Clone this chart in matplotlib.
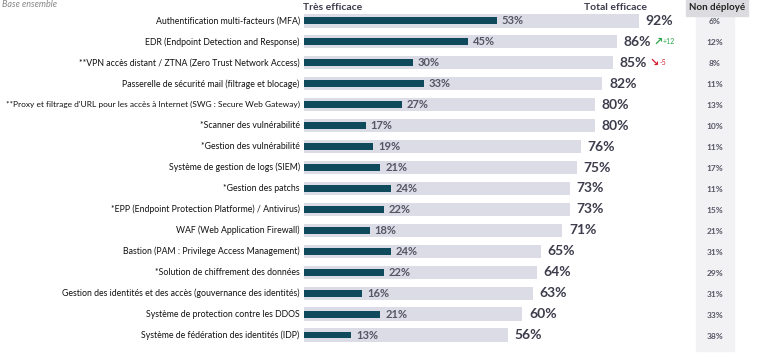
import numpy as np
import matplotlib.pyplot as plt

plt.rcParams['font.family'] = ['Lato', 'DejaVu Sans']

categories = [
    "Authentification multi-facteurs (MFA)",
    "EDR (Endpoint Detection and Response)",
    "**VPN accès distant / ZTNA (Zero Trust Network Access)",
    "Passerelle de sécurité mail (filtrage et blocage)",
    "**Proxy et filtrage d'URL pour les accès à Internet (SWG : Secure Web Gateway)",
    "*Scanner des vulnérabilité",
    "*Gestion des vulnérabilité",
    "Système de gestion de logs (SIEM)",
    "*Gestion des patchs",
    "*EPP (Endpoint Protection Platforme) / Antivirus)",
    "WAF (Web Application Firewall)",
    "Bastion (PAM : Privilege Access Management)",
    "*Solution de chiffrement des données",
    "Gestion des identités et des accès (gouvernance des identités)",
    "Système de protection contre les DDOS",
    "Système de fédération des identités (IDP)",
]
tres_efficace = [53, 45, 30, 33, 27, 17, 19, 21, 24, 22, 18, 24, 22, 16, 21, 13]
total_efficace = [92, 86, 85, 82, 80, 80, 76, 75, 73, 73, 71, 65, 64, 63, 60, 56]
non_deploye = [6, 12, 8, 11, 13, 10, 11, 17, 11, 15, 21, 31, 29, 31, 33, 38]
evolutions = {1: "+12", 2: "-5"}

dark = '#0f4a5c'
light = '#dcdce6'
txt = '#3c3c4c'

fig = plt.figure(figsize=(7.67, 3.61), dpi=100)
ax = fig.add_axes([304 / 767, 0, 463 / 767, 1])
ax.set_xlim(0, 463 / 3.64)
ax.set_ylim(16.24, -1.0)
ax.axis('off')

y = np.arange(len(categories))

# colonne "Non déployé"
nd_x = (715 - 304) / 3.64
ax.add_patch(plt.Rectangle((nd_x - 5.1, -1.0), 10.2, 16.75, color='#f2f2f4', zorder=0))
ax.add_patch(plt.Rectangle((nd_x - 8.0, -1.0), 17.0, 0.76, color='#dcdce0', zorder=1))
ax.text(nd_x + 0.5, -0.62, "Non déployé", ha='center', va='center', fontsize=7,
        fontweight='bold', color='#222222', zorder=2)

ax.barh(y, total_efficace, height=0.63, color=light, zorder=1)
ax.barh(y, tres_efficace, height=0.33, color=dark, zorder=2)

for i in y:
    fs = 6.0 if len(categories[i]) > 70 else 6.3
    ax.text(-1.2, i, categories[i], ha='right', va='center', fontsize=fs, color='#111111')
    ax.text(tres_efficace[i] + 1.3, i, f"{tres_efficace[i]}%", ha='left', va='center',
            fontsize=8, fontweight='bold', color='#555566', zorder=3)
    ax.text(total_efficace[i] + 1.8, i, f"{total_efficace[i]}%", ha='left', va='center',
            fontsize=10, fontweight='bold', color=txt, zorder=3)
    ax.text(nd_x, i + 0.05, f"{non_deploye[i]}%", ha='center', va='center',
            fontsize=6, fontweight='bold', color='#555566', zorder=3)

for i, ev in evolutions.items():
    up = ev.startswith('+')
    col = '#2aa84a' if up else '#d42030'
    ax.text(total_efficace[i] + 10.0, i, '↗' if up else '↘', ha='left', va='center',
            fontsize=8, fontweight='bold', color=col, family='DejaVu Sans')
    ax.text(total_efficace[i] + 12.6, i, ev, ha='left', va='center', fontsize=5, color=col)

ax.text(8, -0.62, "Très efficace", ha='center', va='center', fontsize=7.5,
        fontweight='bold', color=txt)
ax.text(85.5, -0.62, "Total efficace", ha='center', va='center', fontsize=7.5,
        fontweight='bold', color=txt)
fig.text(0.002, 1.0, "Base ensemble", ha='left', va='top', fontsize=6.5,
         style='italic', color='#888888')

fig.savefig('out.png', dpi=100)
